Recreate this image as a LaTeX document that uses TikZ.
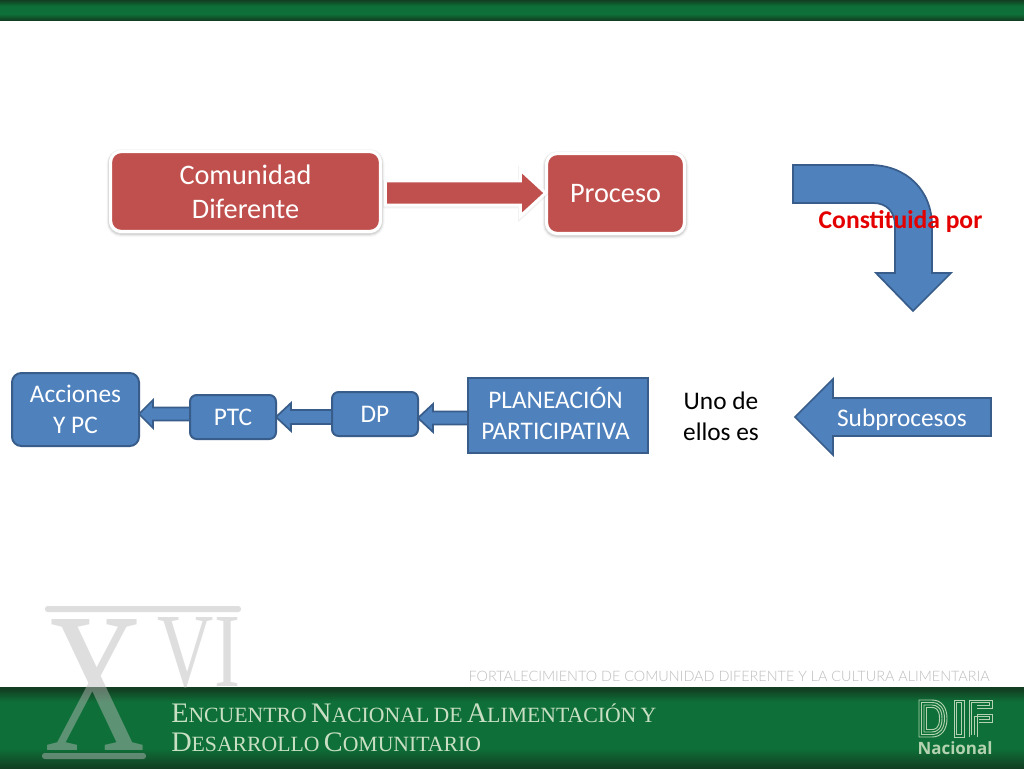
\documentclass[tikz,border=0pt]{standalone}
\usepackage{fontspec}
\setmainfont{Carlito}
\newfontfamily\serifb{Liberation Serif}
\newfontfamily\thinf{Lato Light}
\newfontfamily\nacf{Open Sans}
\usetikzlibrary{calc}
\def\px{0.75pt}
\newcommand\bodyfont{\fontsize{19}{23.25}\selectfont}
\newcommand\bg[1]{{\fontsize{21.2}{21.2}\selectfont #1}}
\newcommand\sm[1]{{\fontsize{16.3}{16.3}\selectfont #1}}
\newcommand\gap{\hspace{.32em}}
\newcommand\leftblock[7]{%
  \coordinate (yy) at (0,#3);
  \draw[#7] (#1.east|-yy) -- ++(#4,-#5) -- ($(#1.east|-yy)+(#4,-#6)$) -- ($(#2.west|-yy)+(0,-#6)$)
    -- ($(#2.west|-yy)+(0,#6)$) -- ($(#1.east|-yy)+(#4,#6)$) -- ($(#1.east|-yy)+(#4,#5)$) -- cycle;}
\tikzset{
  softshadow/.style={
    preaction={draw=black,draw opacity=.03,line width=6pt,transform canvas={yshift=-1.2pt}},
    preaction={draw=black,draw opacity=.05,line width=4.6pt,transform canvas={yshift=-1pt}},
    preaction={draw=black,draw opacity=.08,line width=3.4pt,transform canvas={yshift=-.8pt}}},
  bluebox/.style={draw=bluedge,fill=bluefill,line width=1.5pt,rounded corners=7pt,text=white,
    align=center,inner sep=0pt,outer sep=0pt,font=\bodyfont},
  bluesq/.style={bluebox,rounded corners=0pt},
  redbox/.style={softshadow,draw=white,fill=redfill,line width=2.4pt,rounded corners=8pt,text=white,
    align=center,inner sep=0pt,outer sep=0pt,font=\fontsize{21.2}{25.5}\selectfont},
  bluearrow/.style={draw=bluedge,fill=bluefill,line width=1.3pt,line join=miter},
  redarrow/.style={preaction={draw=black,draw opacity=.05,line width=3.4pt,transform canvas={yshift=-.8pt}},draw=white,fill=redfill,line width=2.2pt,line join=miter},
  plain/.style={inner sep=0pt,outer sep=0pt,align=center,font=\bodyfont},
  stripe/.style={draw=logogreen,line width=.7pt,fill=none},
  logotext/.style={text=logotone,text opacity=.47,transform shape,anchor=base,inner sep=0pt},
}
\definecolor{bluefill}{HTML}{4F81BD}
\definecolor{bluedge}{HTML}{385D8A}
\definecolor{redfill}{HTML}{C0504D}
\definecolor{bandgreen}{HTML}{0E7038}
\definecolor{banddark}{HTML}{123F22}
\definecolor{logotone}{HTML}{BABABA}
\definecolor{logogreen}{HTML}{B4D2B0}
\definecolor{captext}{HTML}{C9DFC4}
\definecolor{tagline}{HTML}{BDBDBD}
\begin{document}
\begin{tikzpicture}[x=0.75pt,y=-0.75pt]
\useasboundingbox (0,0) rectangle (1024,768);
\fill[white] (0,0) rectangle (1024,768);
% top band
\shade[top color=banddark,bottom color=bandgreen] (0,0) rectangle (1024,6);
\fill[bandgreen] (0,6) rectangle (1024,14);
\shade[top color=bandgreen,bottom color=banddark] (0,14) rectangle (1024,20);
% bottom band
\fill[banddark] (0,687) rectangle (1024,689);
\shade[top color=banddark,bottom color=bandgreen] (0,689) rectangle (1024,702);
\fill[bandgreen] (0,702) rectangle (1024,748);
\shade[top color=bandgreen,bottom color=banddark] (0,748) rectangle (1024,768);
% XVI logo, see-through over the band
\node[logotext,xscale=.70,font=\serifb\fontsize{150}{150}\selectfont] (logox) at (95,750) {X};
\node[logotext,xscale=.74,font=\serifb\fontsize{79}{79}\selectfont] (logovi) at (199,686) {VI};
\fill[logotone,fill opacity=.47,rounded corners=2pt] (45,606) rectangle (241,612);
\fill[logotone,fill opacity=.47,rounded corners=2pt] (42,753) rectangle (146,759);
% footer text
\node[anchor=base west,inner sep=0pt,text=captext,font=\serifb] (enc) at (171,722)
  {\bg{E}\sm{NCUENTRO}\gap\bg{N}\sm{ACIONAL}\gap\sm{DE}\gap\bg{A}\sm{LIMENTACIÓN}\gap\sm{Y}};
\node[anchor=base west,inner sep=0pt,text=captext,font=\serifb] (des) at (171,751)
  {\bg{D}\sm{ESARROLLO}\gap\bg{C}\sm{OMUNITARIO}};
\node[anchor=base east,inner sep=0pt,text=tagline,font=\thinf\fontsize{10.8}{12}\selectfont] (tag) at (990,681)
  {FORTALECIMIENTO DE COMUNIDAD DIFERENTE Y LA CULTURA ALIMENTARIA};
% DIF logo
\foreach \i in {0,2.5,5,7.5}{
  \draw[stripe] (919+\i,700+\i) -- (932,700+\i) .. controls (942-\i,700+\i) and (947-\i,708) .. (947-\i,718.5)
     .. controls (947-\i,729) and (942-\i,737-\i) .. (932,737-\i) -- (919+\i,737-\i) -- cycle;
}
\foreach \i in {0,2.5}{
  \draw[stripe] (954+\i,700+\i) rectangle (964-\i,737-\i);
  \draw[stripe] (969+\i,737-\i) -- (969+\i,700+\i) -- (992-\i,700+\i) -- (992-\i,708-\i) -- (977,708-\i);
  \draw[stripe] (977-\i,737-\i) -- (977-\i,714+\i) -- (992-\i,714+\i) -- (992-\i,722-\i) -- (979,722-\i);
}
\node[anchor=base,inner sep=0pt,text=logogreen,font=\nacf\bfseries\fontsize{12.7}{14}\selectfont] (nac) at (955,754) {Nacional};
% red row
\node[redbox,minimum width=270*\px,minimum height=80*\px] (comunidad) at (245.5,191.5) {Comunidad\\Diferente};
\node[redbox,minimum width=138*\px,minimum height=80*\px] (proceso) at (615.5,193.5) {Proceso};
\coordinate (ra) at ($(comunidad.east|-0,193)+(5,0)$);
\coordinate (rb) at ($(proceso.west|-0,193)+(-1,0)$);
\draw[redarrow] (ra) ++(0,-12) -- ($(rb)+(-25,-12)$) -- ($(rb)+(-25,-23)$) -- (rb) -- ($(rb)+(-25,23)$) -- ($(rb)+(-25,12)$) -- ($(ra)+(0,12)$) -- cycle;
% bent arrow
\draw[bluearrow] (793,165) -- (870,165) .. controls (906,165) and (932,190) .. (932,226) -- (932,273) -- (951,273)
  -- (913,311) -- (876,273) -- (895,273) -- (895,226) .. controls (895,212) and (887,203) .. (873,203) -- (793,203) -- cycle;
\node[plain,text=red!90!black,font=\bfseries\fontsize{19.2}{23}\selectfont] (constituida) at (900.5,222) {Constituida por};
% lower row
\node[bluebox,minimum width=127*\px,minimum height=73*\px] (acciones) at (75.5,409.5) {Acciones\\Y PC};
\node[bluebox,rounded corners=5pt,minimum width=86*\px,minimum height=44*\px] (ptc) at (233,417) {\raisebox{-1.2pt}{PTC}};
\node[bluebox,rounded corners=5pt,minimum width=86*\px,minimum height=44*\px] (dp) at (375,414) {\raisebox{-1.2pt}{DP}};
\node[bluesq,minimum width=180*\px,minimum height=75*\px] (plan) at (558,415.5) {};
\node[plain,text=white] (plantext) at (555.5,414) {PLANEACIÓN\\PARTICIPATIVA};
\node[plain] (uno) at (721,416) {Uno de\\ellos es};
\coordinate (st) at (795,417);
\coordinate (se) at (991,417);
\draw[bluearrow] (st) -- ++(38,-38) -- ($(st)+(38,-19)$) -- ($(se)+(0,-19)$) -- ($(se)+(0,19)$) -- ($(st)+(38,19)$) -- ($(st)+(38,38)$) -- cycle;
\node[plain,text=white] (sub) at (902,419.5) {Subprocesos};
\leftblock{acciones}{ptc}{414}{14}{14}{6.5}{bluearrow}
\leftblock{ptc}{dp}{417}{15}{14}{7}{bluearrow}
\leftblock{dp}{plan}{418}{15}{14}{6.5}{bluearrow}
\end{tikzpicture}
\end{document}
